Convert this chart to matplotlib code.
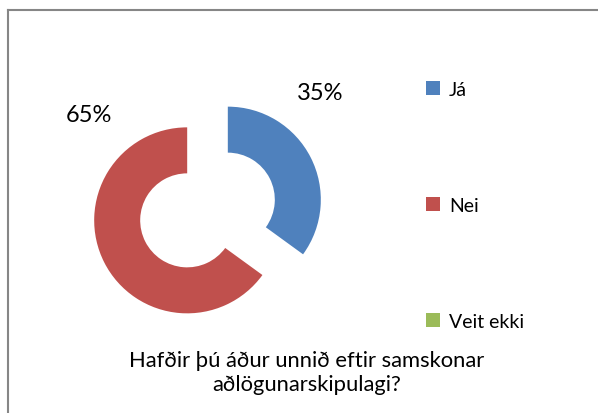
import matplotlib
matplotlib.use("Agg")
from matplotlib import pyplot as plt
from matplotlib.patches import Patch
from matplotlib.lines import Line2D

plt.rcParams['font.family'] = ['Lato', 'DejaVu Sans']

# data
labels = ['Já', 'Nei', 'Veit ekki']
values = [35, 65, 0]
pct_labels = ['35%', '65%']
colors = ['#4F81BD', '#C0504D', '#9BBB59']
title = 'Hafðir þú áður unnið eftir samskonar\naðlögunarskipulagi?'

W, H = 598, 414
fig = plt.figure(figsize=(W / 100, H / 100), dpi=100)
ax = fig.add_axes([0, 0, 1, 1])

R = 93
# explode is in data units here (pixels)
ax.pie(values, colors=colors, startangle=90, counterclock=False,
       radius=R, center=(207.5, H - 211), explode=[22.8, 22.8, 0],
       wedgeprops=dict(width=46, linewidth=0), frame=True)
ax.set_xlim(0, W)
ax.set_ylim(0, H)
ax.set_aspect('equal')
ax.axis('off')

# percentage labels
ax.text(320, H - 94, pct_labels[0], fontsize=17, ha='center', va='center')
ax.text(89, H - 115, pct_labels[1], fontsize=17, ha='center', va='center')

# legend
handles = [Patch(facecolor=c, edgecolor='none') for c in colors]
leg = ax.legend(handles, labels, loc='upper left', bbox_to_anchor=(418 / W, 1 - 74 / H),
                frameon=False, fontsize=14, handlelength=0.75, handleheight=0.75,
                handletextpad=0.45, labelspacing=5.1, borderaxespad=0)

# title at the bottom
ax.text(307, H - 373, title, fontsize=15.8, ha='center', va='center', linespacing=1.3)

# chart border (only left and top visible)
fig.add_artist(Line2D([8 / W, 8 / W], [0, 1 - 11 / H], color='#868686', lw=1.5,
                      transform=fig.transFigure))
fig.add_artist(Line2D([8 / W, 1], [1 - 11 / H, 1 - 11 / H], color='#868686', lw=1.5,
                      transform=fig.transFigure))

plt.savefig("out.png", dpi=100)
